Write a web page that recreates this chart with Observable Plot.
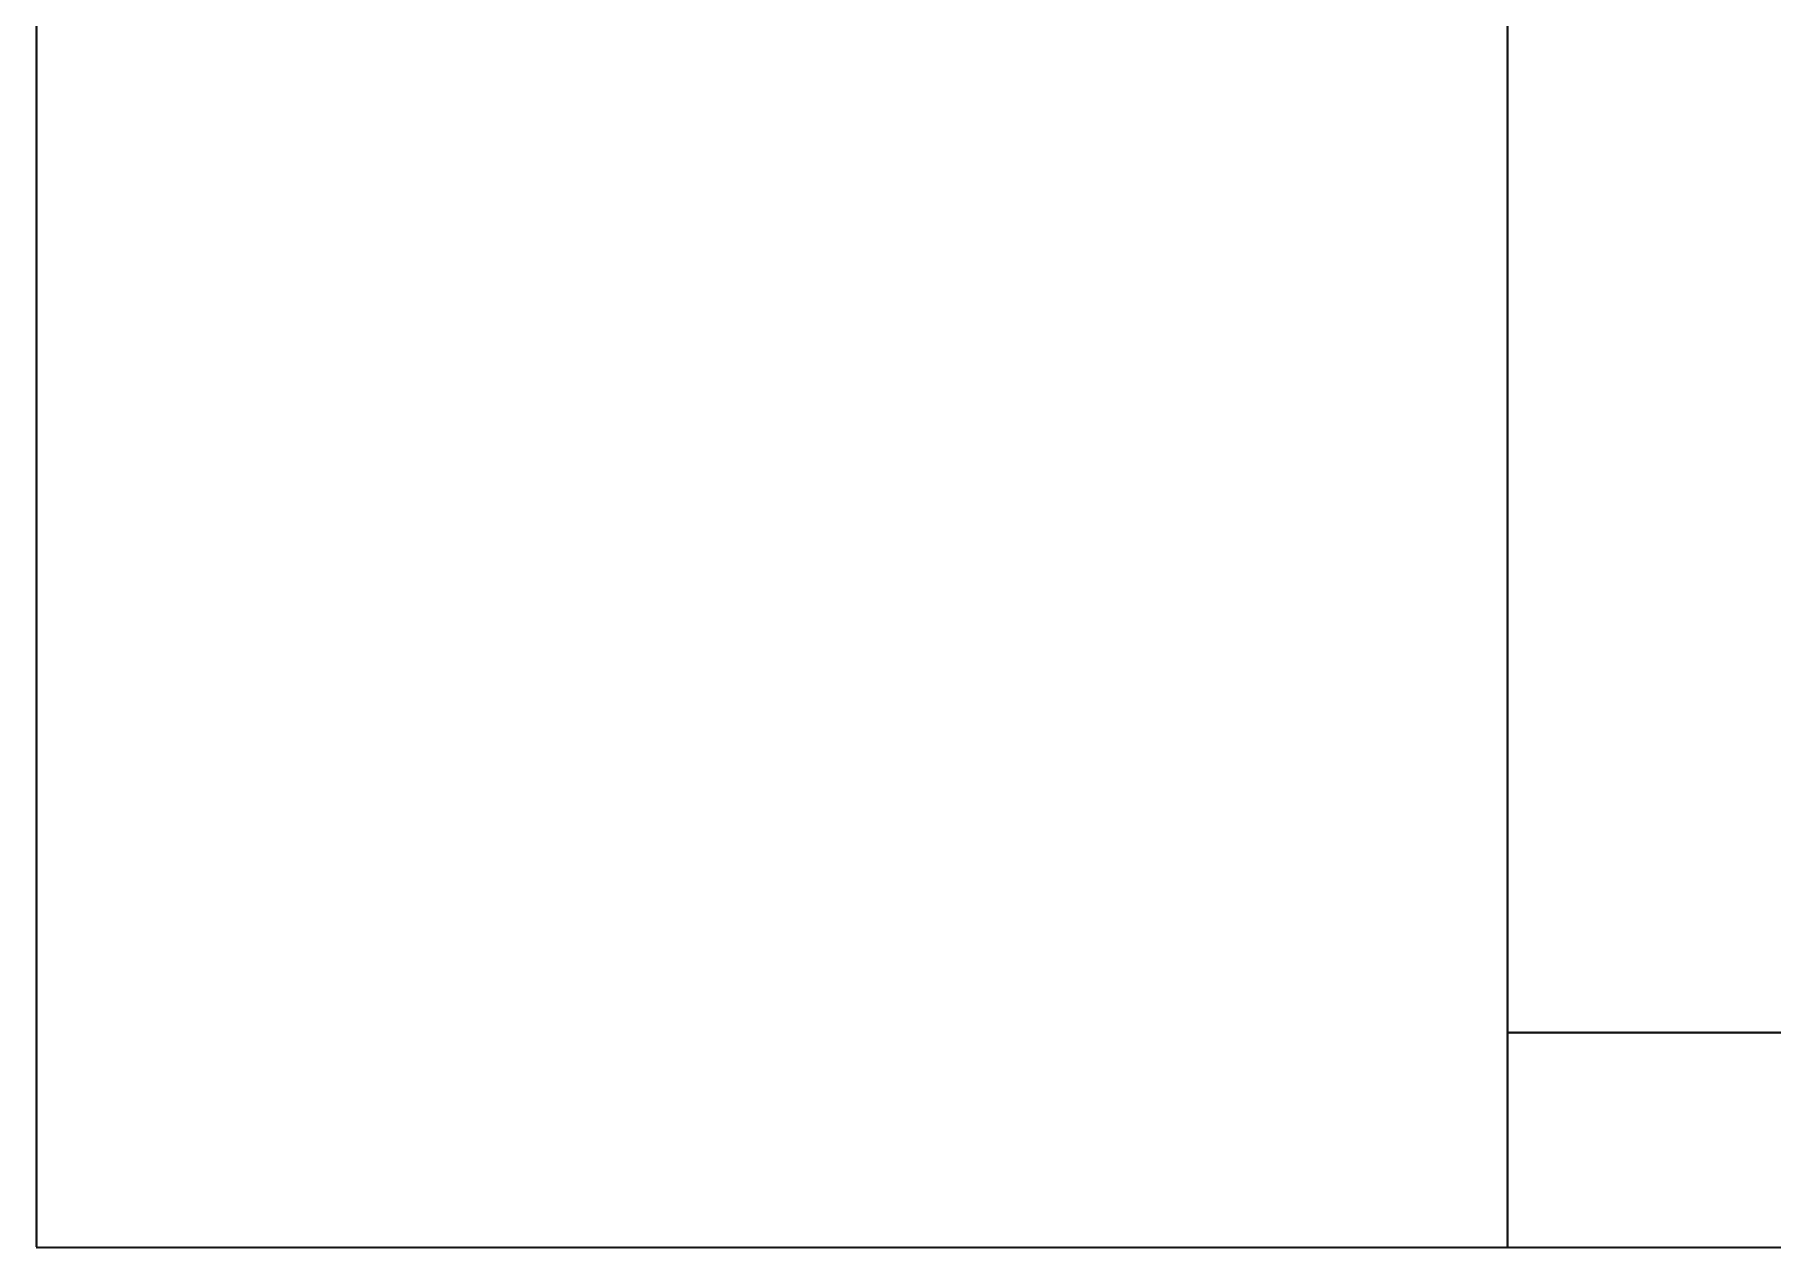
<!DOCTYPE html>
<html>
<head>
<meta charset="utf-8">
<script src="https://cdn.jsdelivr.net/npm/d3@7"></script>
<script src="https://cdn.jsdelivr.net/npm/@observablehq/plot@0.6"></script>
<style>
  html, body { margin: 0; padding: 0; background: #fff; }
  #chart svg { display: block; }
</style>
</head>
<body>
<div id="chart"></div>
<script>
// Column categories and their widths (share of total, %)
const columns = ["A", "B"];
const columnWidths = [84.3, 15.7];
// Segments stacked within column B (share of height, %)
const segmentsB = ["B1", "B2"];
const segmentValuesB = [17.6, 82.4];

// Derived edges
const colStarts = [];
let acc = 0;
for (const w of columnWidths) { colStarts.push(acc); acc += w; }
const total = acc;
const bStart = colStarts[1];
const segBoundaries = [];
let s = 0;
for (let i = 0; i < segmentValuesB.length - 1; i++) { s += segmentValuesB[i]; segBoundaries.push(s); }

const stroke = "#111";
const sw = 2.2;
const chart = Plot.plot({
  width: 1807,
  height: 1278,
  marginLeft: 36,
  marginRight: 26,
  marginTop: 26,
  marginBottom: 31,
  x: { domain: [0, total], axis: null },
  y: { domain: [0, 100], axis: null },
  marks: [
    Plot.ruleX(colStarts, { x: d => d, y1: 0, y2: 100, stroke, strokeWidth: sw }),
    Plot.ruleY([0], { x1: 0, x2: total, stroke, strokeWidth: sw }),
    Plot.ruleY(segBoundaries, { y: d => d, x1: bStart, x2: total, stroke, strokeWidth: sw })
  ]
});
document.getElementById("chart").appendChild(chart);
</script>
</body>
</html>
